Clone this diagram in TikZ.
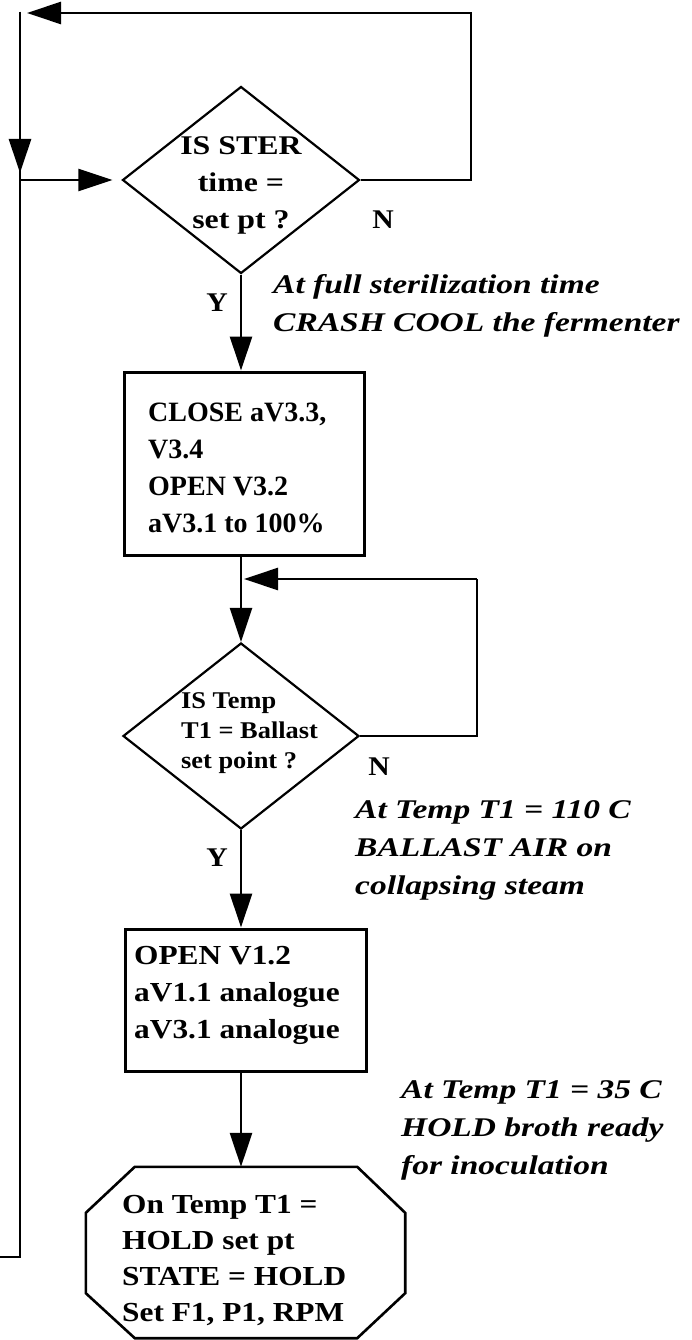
\documentclass[tikz,border=0pt]{standalone}
\usepackage{fontspec}
\setmainfont{Liberation Serif}
\newfontfamily\annfont[FakeStretch=1.24]{Liberation Serif}
\newfontfamily\donefont[FakeStretch=1.18]{Liberation Serif}
\newfontfamily\dtwofont[FakeStretch=1.1]{Liberation Serif}
\newfontfamily\bonefont{Liberation Serif}
\newfontfamily\btwofont[FakeStretch=1.14]{Liberation Serif}
\usetikzlibrary{arrows.meta,shapes.geometric,calc}
\begin{document}
\begin{tikzpicture}[x=1pt,y=-1pt,
  line/.style={draw=black, line width=2.6pt},
  arr/.style={line, -{Triangle[length=34pt,width=22pt]}},
  dia/.style={diamond, draw=black, line width=2.2pt, inner sep=0pt, minimum width=237pt, minimum height=187pt},
  boxshape/.style={rectangle, draw=black, line width=3pt, inner sep=0pt},
  outline/.style={draw=black, line width=2.6pt, line join=miter},
  txt/.style={inner sep=0pt, text=black},
  ann/.style={txt, anchor=west, align=left, font=\annfont\bfseries\itshape\fontsize{27}{38}\selectfont},
  yn/.style={txt, font=\dtwofont\bfseries\fontsize{27}{30}\selectfont}
]
\useasboundingbox (0,0) rectangle (692,1340);
\fill[white] (0,0) rectangle (692,1340);

% nodes
\node[dia] (d1) at (241,180) {};
\node[txt, align=center, font=\donefont\bfseries\fontsize{27}{37}\selectfont] (d1t) at (241,185) {IS STER\\time =\\set pt ?};

\node[boxshape, minimum width=240pt, minimum height=183pt] (b1) at (244,463.5) {};
\node[txt, anchor=west, align=left, font=\bonefont\bfseries\fontsize{28}{37}\selectfont] (b1t) at (148,468) {CLOSE aV3.3,\\V3.4\\OPEN V3.2\\aV3.1 to 100\%};

\node[dia, minimum width=236pt, minimum height=186pt] (d2) at (241,736) {};
\node[txt, anchor=west, align=left, font=\dtwofont\bfseries\fontsize{24}{30}\selectfont] (d2t) at (181,733) {IS Temp\\T1 = Ballast\\set point ?};

\node[boxshape, minimum width=241pt, minimum height=142pt] (b2) at (245.5,1000) {};
\node[txt, anchor=west, align=left, font=\btwofont\bfseries\fontsize{27.5}{37}\selectfont] (b2t) at (134,995) {OPEN V1.2\\aV1.1 analogue\\aV3.1 analogue};

\node[inner sep=0pt, minimum width=319pt, minimum height=171pt] (oct) at (245.5,1252.5) {};
\draw[outline] ($(oct.north west)+(49,0)$) -- ($(oct.north east)+(-48,0)$)
  -- ($(oct.north east)+(0,46)$) -- ($(oct.south east)+(0,-45)$)
  -- ($(oct.south east)+(-48,0)$) -- ($(oct.south west)+(49,0)$)
  -- ($(oct.south west)+(0,-45)$) -- ($(oct.north west)+(0,46)$) -- cycle;
\node[txt, anchor=west, align=left, font=\btwofont\bfseries\fontsize{27.5}{36}\selectfont] (octt) at (122,1261) {On Temp T1 =\\HOLD set pt\\STATE = HOLD\\Set F1, P1, RPM};

% labels
\node[yn] (n1) at (383,220) {N};
\node[yn] (y1) at (217,303) {Y};
\node[yn] (n2) at (379,767) {N};
\node[yn] (y2) at (217,858) {Y};

\node[ann] (a1) at (273,306) {At full sterilization time\\CRASH COOL the fermenter};
\node[ann] (a2) at (355,850) {At Temp T1 = 110 C\\BALLAST AIR on\\collapsing steam};
\node[ann] (a3) at (401,1130) {At Temp T1 = 35 C\\HOLD broth ready\\for inoculation};

% coordinates
\coordinate (lt) at (20,11.7);
\coordinate (lb) at (0,1257);
\coordinate (ld) at (20,173);
\coordinate (j) at (20,180);
\coordinate (tr) at (471,13);
\coordinate (ta) at (27,13);
\coordinate (f2a) at (477,579);
\coordinate (f2t) at (244,579);

% connectors
\draw[line] (lb) -| (lt);
\draw[arr] (lt) -- (ld);
\draw[arr] (j) -- ([xshift=-9pt]d1.west);
\draw[arr] (d1.east) -| (tr) -- (ta);
\draw[arr] (d1.south) -- (d1.south |- b1.north);
\draw[arr] (d1.south |- b1.south) -- (d2.north);
\draw[line] (d2.east) -| (f2a);
\draw[arr] (f2a) -- (f2t);
\draw[arr] (d2.south) -- (d2.south |- b2.north);
\draw[arr] (d2.south |- b2.south) -- (d2.south |- oct.north);
\end{tikzpicture}
\end{document}
